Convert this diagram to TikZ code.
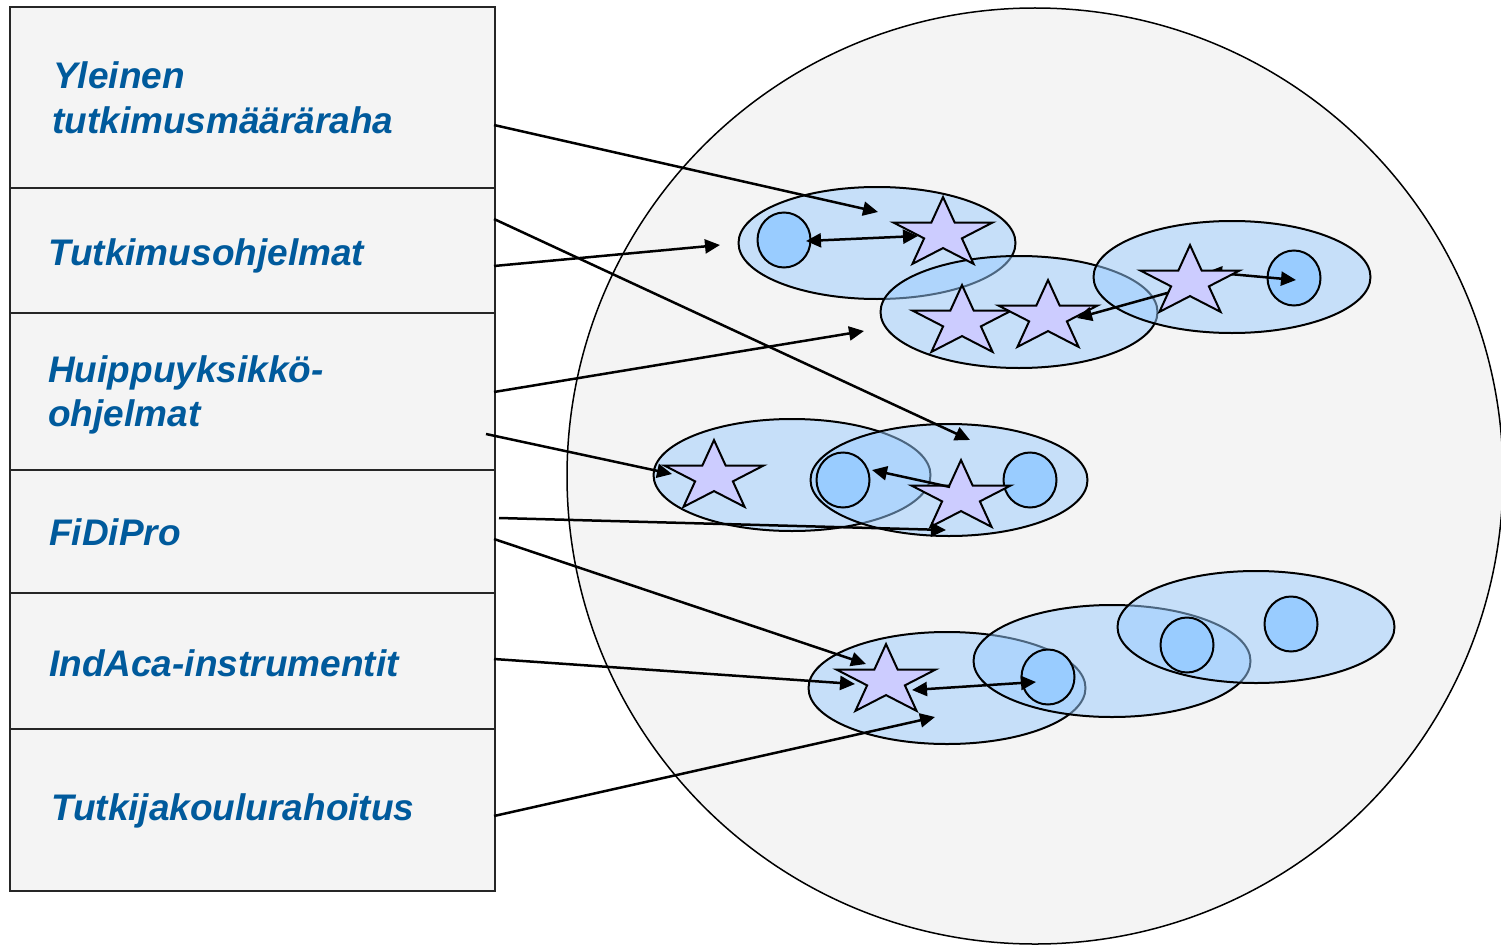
\documentclass[tikz,border=0pt]{standalone}
\usepackage{fontspec}
\setmainfont{Liberation Sans}
\usetikzlibrary{shapes.geometric,arrows.meta}
\definecolor{txtblue}{HTML}{005A9C}
\definecolor{panel}{HTML}{F4F4F4}
\definecolor{bubble}{HTML}{99CCFF}
\definecolor{starc}{HTML}{CCCCFF}
\tikzset{
 group/.style={ellipse, draw=black, line width=2pt, fill=bubble, fill opacity=0.5, draw opacity=1, minimum width=277pt, minimum height=112pt, inner sep=0pt},
 actor/.style={ellipse, draw=black, line width=2pt, fill=bubble, minimum width=53pt, minimum height=55pt, inner sep=0pt},
 agent/.style={star, star points=5, star point ratio=2.618, draw=black, line width=2pt, fill=starc, minimum size=104pt, inner sep=0pt, yscale=0.71},
 link/.style={line width=2.5pt, -{Triangle[length=15pt,width=14pt]}},
 blink/.style={line width=2.5pt, {Triangle[length=15pt,width=14pt]}-{Triangle[length=15pt,width=14pt]}},
 lbl/.style={anchor=base west, inner sep=0pt, text=txtblue, font=\fontsize{37}{44}\selectfont\bfseries\itshape},
 row/.style={draw=black!85, line width=2pt, fill=panel, minimum width=485pt, inner sep=0pt, anchor=north west},
}
\begin{document}
\begin{tikzpicture}[x=1pt,y=-1pt]
\useasboundingbox (0,0) rectangle (1501,947);
\fill[white] (0,0) rectangle (1501,947);
% big circle
\node[circle, draw=black, line width=1.5pt, fill=panel, minimum size=936pt, inner sep=0pt] (world) at (1035,476) {};
% left panel rows
\node[row, minimum height=181pt] (r1) at (9,6) {};
\node[row, minimum height=125pt] (r2) at (9,187) {};
\node[row, minimum height=157pt] (r3) at (9,312) {};
\node[row, minimum height=123pt] (r4) at (9,469) {};
\node[row, minimum height=136pt] (r5) at (9,592) {};
\node[row, minimum height=162pt] (r6) at (9,728) {};
% labels
\node[lbl] (t1a) at (53,89) {Yleinen};
\node[lbl] (t1b) at (52,133) {tutkimusmääräraha};
\node[lbl] (t2) at (48,265) {Tutkimusohjelmat};
\node[lbl] (t3a) at (48,382) {Huippuyksikkö-};
\node[lbl] (t3b) at (48,426) {ohjelmat};
\node[lbl] (t4) at (49,545) {FiDiPro};
\node[lbl] (t5) at (49,676) {IndAca-instrumentit};
\node[lbl] (t6) at (51,820) {Tutkijakoulurahoitus};
% groups
\node[group] (e1) at (877,243) {};
\node[group] (e2) at (1019,312) {};
\node[group] (e3) at (1232,277) {};
\node[group] (e4) at (792,475) {};
\node[group] (e5) at (949,480) {};
\node[group] (e6) at (947,688) {};
\node[group] (e7) at (1112,661) {};
\node[group] (e8) at (1256,627) {};
% actors (circles)
\node[actor] (c1) at (784,240) {};
\node[actor] (c2) at (1294,278) {};
\node[actor] (c3) at (843,480) {};
\node[actor] (c4) at (1030,480) {};
\node[actor] (c5) at (1048,677) {};
\node[actor] (c6) at (1187,645) {};
\node[actor] (c7) at (1291,624) {};
% agents (stars)
\node[agent] (s1) at (943,234) {};
\node[agent] (s2) at (962,322) {};
\node[agent] (s3) at (1048,317) {};
\node[agent] (s5) at (714,477) {};
\node[agent] (s6) at (961,497) {};
\node[agent] (s7) at (886,681) {};
% connector end points
\coordinate (a1s) at (494,125); \coordinate (a1e) at (878,212);
\coordinate (a2s) at (494,266); \coordinate (a2e) at (720,245);
\coordinate (a3s) at (494,219); \coordinate (a3e) at (970,440);
\coordinate (a4s) at (494,392); \coordinate (a4e) at (864,331);
\coordinate (a5s) at (486,434); \coordinate (a5e) at (672,474);
\coordinate (a6s) at (499,518); \coordinate (a6e) at (946,530);
\coordinate (a7s) at (494,539); \coordinate (a7e) at (866,664);
\coordinate (a8s) at (494,659); \coordinate (a8e) at (855,684);
\coordinate (a9s) at (494,816); \coordinate (a9e) at (935,717);
\coordinate (d1s) at (806,241); \coordinate (d1e) at (918,236);
\coordinate (d2s) at (1178,290); \coordinate (d2e) at (1077,318);
\coordinate (d3s) at (1207,272); \coordinate (d3e) at (1296,280);
\coordinate (d4s) at (950,487); \coordinate (d4e) at (872,470);
\coordinate (d5s) at (912,690); \coordinate (d5e) at (1036,682);
% connectors
\draw[link] (a1s) -- (a1e);
\draw[link] (a2s) -- (a2e);
\draw[link] (a3s) -- (a3e);
\draw[link] (a4s) -- (a4e);
\draw[link] (a5s) -- (a5e);
\draw[link] (a6s) -- (a6e);
\draw[link] (a7s) -- (a7e);
\draw[link] (a8s) -- (a8e);
\draw[link] (a9s) -- (a9e);
\draw[blink] (d1s) -- (d1e);
\draw[link] (d2s) -- (d2e);
\draw[blink] (d3s) -- (d3e);
\draw[link] (d4s) -- (d4e);
\draw[blink] (d5s) -- (d5e);
% star drawn over its connectors
\node[agent] (s4) at (1190,282) {};
\end{tikzpicture}
\end{document}
